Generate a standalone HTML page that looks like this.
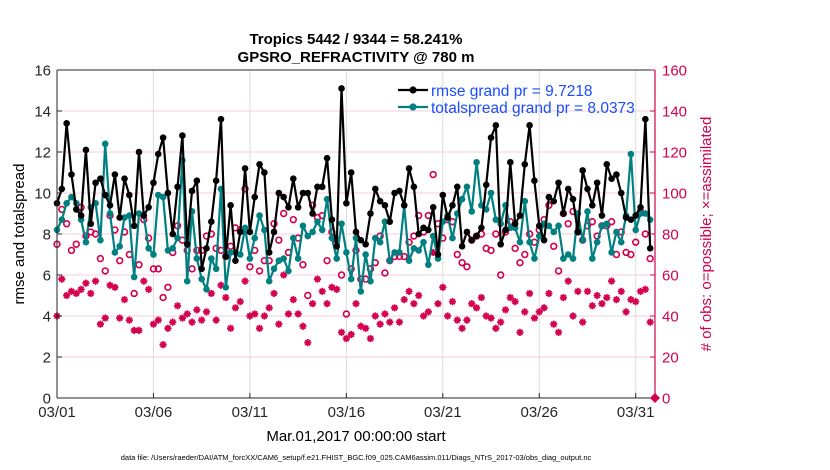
<!DOCTYPE html>
<html><head><meta charset="utf-8">
<style>
html,body{margin:0;padding:0;background:#fff;}
svg{display:block;font-family:"Liberation Sans",Arial,sans-serif;}
</style></head>
<body>
<svg id="chart" width="830" height="470" viewBox="0 0 830 470">
  <g id="grid"></g>
  <g id="series"></g>
  <g id="axes"></g>
  <text x="356" y="44" text-anchor="middle" font-size="15" font-weight="bold">Tropics 5442 / 9344 = 58.241%</text>
  <text x="356" y="62" text-anchor="middle" font-size="15" font-weight="bold">GPSRO_REFRACTIVITY @ 780 m</text>
  <text transform="translate(24,234) rotate(-90)" text-anchor="middle" font-size="15">rmse and totalspread</text>
  <text transform="translate(711,234) rotate(-90)" text-anchor="middle" font-size="15" fill="#d4004f"># of obs: o=possible; ×=assimilated</text>
  <text x="356" y="441" text-anchor="middle" font-size="15">Mar.01,2017 00:00:00 start</text>
  <text x="356" y="460" text-anchor="middle" font-size="7.5">data file: /Users/raeder/DAI/ATM_forcXX/CAM6_setup/f.e21.FHIST_BGC.f09_025.CAM6assim.011/Diags_NTrS_2017-03/obs_diag_output.nc</text>
  <g>
    <g>
      <line x1="398" y1="90" x2="428" y2="90" stroke="#000" stroke-width="2.2"/>
      <circle cx="413" cy="90" r="3.6" fill="#000"/>
      <text x="431" y="96" font-size="15.5" fill="#1a4dff">rmse grand pr = 9.7218</text>
    </g>
    <g>
      <line x1="398" y1="107" x2="428" y2="107" stroke="#008080" stroke-width="2.2"/>
      <circle cx="413" cy="107" r="3.6" fill="#008080"/>
      <text x="431" y="113" font-size="15.5" fill="#1a4dff">totalspread grand pr = 8.0373</text>
    </g>
  </g>
</svg>
<script>
const xTickLabels = ["03/01","03/06","03/11","03/16","03/21","03/26","03/31"];
const xTickDays = [0,5,10,15,20,25,30];
const yTicks = [0,2,4,6,8,10,12,14,16];
const rightTicks = [0,20,40,60,80,100,120,140,160];
const rmse = [9.5,10.2,13.4,10.9,9.2,8.9,12.1,8.5,10.5,10.7,9.9,9.4,10.9,8.8,10.7,9.9,8.4,12.0,8.9,9.3,10.5,11.9,12.7,10.0,8.0,10.3,12.8,7.5,10.1,10.6,6.3,7.3,8.6,10.6,13.6,6.9,9.4,6.7,8.1,11.2,8.1,9.8,11.4,11.0,7.1,8.1,10.0,9.8,9.3,10.7,9.3,10.0,10.0,9.0,10.3,10.3,11.7,8.7,7.4,15.1,9.5,11.0,8.1,7.7,7.5,9.0,10.2,9.6,9.4,8.6,10.0,10.1,9.4,11.2,10.3,8.0,8.3,8.2,9.3,7.0,9.9,8.8,9.4,10.3,7.4,8.1,7.7,7.9,8.3,10.4,12.7,13.3,7.5,8.2,11.5,8.5,8.9,11.4,13.3,10.6,8.4,7.7,9.8,9.6,10.5,9.0,10.2,9.7,8.1,11.1,10.2,9.4,10.5,8.9,11.4,10.7,10.9,10.0,8.8,8.7,8.9,9.3,13.6,7.3];
const spread = [8.2,8.7,9.5,9.8,9.5,8.7,7.6,9.3,9.5,7.7,12.4,9.0,7.1,7.4,8.8,8.9,5.9,9.0,8.9,7.3,7.0,9.9,9.8,7.2,7.3,7.8,11.6,5.7,9.1,6.8,5.8,5.3,6.8,6.3,10.2,5.4,7.1,7.1,7.0,8.3,6.8,7.8,8.9,8.2,5.7,6.3,6.7,6.8,6.2,7.8,6.8,8.4,7.9,8.1,8.6,8.2,9.7,7.8,6.8,8.5,7.1,5.8,7.8,5.2,7.0,5.7,7.8,7.6,8.6,6.7,7.1,7.1,9.4,6.7,7.3,7.2,7.6,6.5,7.9,6.8,8.6,8.9,7.8,9.0,9.7,10.3,9.1,11.5,9.4,9.2,10.0,8.7,8.5,9.4,8.3,8.3,7.6,9.6,7.6,6.8,7.9,8.5,8.4,8.1,8.4,6.8,7.0,6.8,9.0,7.7,9.1,6.8,7.6,8.4,8.5,7.1,8.1,7.6,8.9,11.9,8.2,9.0,9.0,8.7];
const obsPossible = [75,92,85,72,75,93,79,81,80,68,62,89,82,67,81,70,51,65,87,78,63,63,49,54,71,84,77,72,63,72,72,79,80,73,72,69,74,83,82,102,64,72,62,67,67,85,77,90,71,87,78,65,50,94,88,89,67,81,77,60,41,63,72,58,58,63,66,79,61,67,69,69,69,76,79,89,81,89,109,85,78,87,86,70,66,64,77,79,80,73,72,80,60,81,86,73,66,70,80,76,82,87,94,74,62,90,85,91,81,77,84,86,79,84,84,86,70,81,71,70,76,91,80,68];
const obsUsed = [40,58,50,52,51,53,56,51,57,36,39,55,54,39,48,38,33,33,57,53,36,38,26,34,37,45,39,41,37,43,38,42,51,38,55,49,34,44,47,57,40,41,34,40,44,51,36,60,41,48,41,35,27,46,58,52,46,54,53,32,29,31,46,35,34,29,40,36,41,37,44,37,48,52,46,50,40,42,71,46,54,40,47,38,34,38,46,44,49,40,39,34,37,43,49,47,32,42,51,39,42,44,51,36,32,49,57,40,52,37,52,45,50,46,49,57,48,52,42,48,47,52,53,37];

const NS = "http://www.w3.org/2000/svg";
const L = 57, R = 655, T = 70, B = 398;
const xDays = 31;
function xs(i){ return L + (i*0.25)/xDays*(R-L); }
function xd(d){ return L + d/xDays*(R-L); }
function yl(v){ return B - v/16*(B-T); }
function yr(v){ return B - v/160*(B-T); }
function mk(tag, attrs, parent){ const e=document.createElementNS(NS,tag); for(const k in attrs) e.setAttribute(k,attrs[k]); parent.appendChild(e); return e; }

const grid = document.getElementById('grid');
const series = document.getElementById('series');
const axes = document.getElementById('axes');

yTicks.forEach(v=>{
  if(v===0||v===16) return;
  const g = mk('line',{x1:L,x2:R,y1:yl(v),y2:yl(v),stroke:'#f2cfdc','stroke-width':1},grid);
  
  
});
xTickDays.forEach(d=>{
  if(d===0) return;
  const g = mk('line',{x1:xd(d),x2:xd(d),y1:T,y2:B,stroke:'#dcdcdc','stroke-width':1},grid);
  
  
});

const magenta = '#d4004f';
obsPossible.forEach((v,i)=>{
  const c = mk('circle',{cx:xs(i),cy:yr(v),r:2.9,fill:'none',stroke:magenta,'stroke-width':1.6},series);
  
  
});
obsUsed.forEach((v,i)=>{
  const x=xs(i), y=yr(v), s=3.6;
  const p = mk('path',{d:`M${x-s},${y}H${x+s}M${x},${y-s}V${y+s}M${x-s*0.7},${y-s*0.7}L${x+s*0.7},${y+s*0.7}M${x-s*0.7},${y+s*0.7}L${x+s*0.7},${y-s*0.7}`,stroke:magenta,'stroke-width':1.8},series);
  
  
});

function drawLine(arr, color, name){
  const pts = arr.map((v,i)=>xs(i).toFixed(1)+','+yl(v).toFixed(1)).join(' ');
  const pl = mk('polyline',{points:pts,fill:'none',stroke:color,'stroke-width':2.2,'stroke-linejoin':'round'},series);
  
  
  arr.forEach((v,i)=>{
    const c = mk('circle',{cx:xs(i),cy:yl(v),r:3.3,fill:color},series);
    
    
  });
}
drawLine(spread,'#008080','totalspread');
drawLine(rmse,'#000000','rmse');

const la = mk('line',{x1:L,x2:L,y1:T,y2:B,stroke:'#262626','stroke-width':1},axes);


const ba = mk('line',{x1:L,x2:R,y1:B,y2:B,stroke:'#262626','stroke-width':1},axes);


const ta = mk('line',{x1:L,x2:R,y1:T,y2:T,stroke:'#262626','stroke-width':1},axes);


const ra = mk('line',{x1:R,x2:R,y1:T,y2:B,stroke:magenta,'stroke-width':1.2},axes);



yTicks.forEach(v=>{
  const t = mk('text',{x:L-6,y:yl(v)+5.5,'text-anchor':'end','font-size':15,fill:'#262626'},axes);
  t.textContent = v;
  
  
  mk('line',{x1:L,x2:L+5,y1:yl(v),y2:yl(v),stroke:'#262626'},axes);
});
rightTicks.forEach(v=>{
  const t = mk('text',{x:R+7,y:yr(v)+5.5,'text-anchor':'start','font-size':15,fill:magenta},axes);
  t.textContent = v;
  
  
  mk('line',{x1:R-5,x2:R,y1:yr(v),y2:yr(v),stroke:magenta},axes);
});
xTickDays.forEach((d,k)=>{
  const t = mk('text',{x:xd(d),y:B+19,'text-anchor':'middle','font-size':15,fill:'#262626'},axes);
  t.textContent = xTickLabels[k];
  
  
  mk('line',{x1:xd(d),x2:xd(d),y1:B,y2:B-5,stroke:'#262626'},axes);
});
const dm = mk('path',{d:`M${R},${B-5}L${R+5},${B}L${R},${B+5}L${R-5},${B}Z`,fill:magenta},axes);


</script>
</body></html>
